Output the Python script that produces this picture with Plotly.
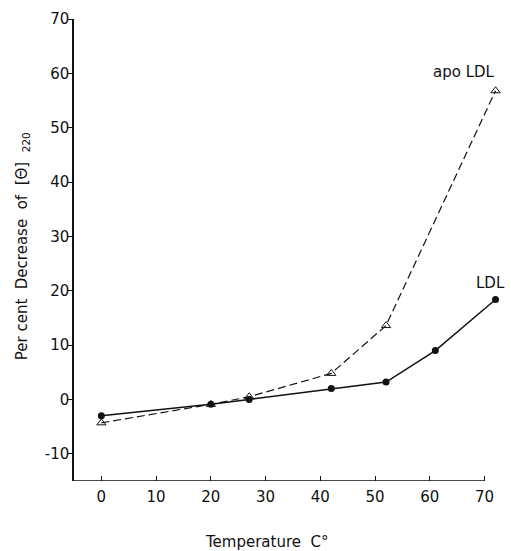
import plotly.graph_objects as go

# Temperature (°C) and percent decrease of [Θ]220 for each preparation
ldl_temp = [0, 20, 27, 42, 52, 61, 72]
ldl_decrease = [-3.0, -0.9, 0.0, 2.0, 3.2, 9.0, 18.4]

apo_temp = [0, 20, 27, 42, 52, 72]
apo_decrease = [-4.3, -0.9, 0.5, 4.8, 13.6, 56.8]

x_ticks = [0, 10, 20, 30, 40, 50, 60, 70]
y_ticks = [-10, 0, 10, 20, 30, 40, 50, 60, 70]
y_tick_labels = ["-10", "0", "10", "20", "30", "40", "50", "60", "70"]

FONT = "DejaVu Sans"
INK = "#111111"

fig = go.Figure()

fig.add_trace(go.Scatter(
    x=apo_temp, y=apo_decrease, mode="lines+markers", name="apo LDL",
    line=dict(color=INK, width=1.2, dash="8px,4px"),
    marker=dict(symbol="triangle-up-open", size=8, color=INK,
                line=dict(width=1, color=INK)),
    cliponaxis=False,
))
fig.add_trace(go.Scatter(
    x=ldl_temp, y=ldl_decrease, mode="lines+markers", name="LDL",
    line=dict(color=INK, width=1.5),
    marker=dict(symbol="circle", size=7, color=INK),
    cliponaxis=False,
))

# x axis line ends at 70 while the last points sit just beyond it
fig.add_shape(type="line", xref="x", yref="y", x0=-5, x1=70, y0=-15, y1=-15,
              line=dict(color=INK, width=1.5))

fig.add_annotation(x=66.2, y=60.3, xref="x", yref="y", text="apo LDL",
                   showarrow=False, font=dict(family=FONT, size=15, color=INK))
fig.add_annotation(x=71.0, y=21.4, xref="x", yref="y", text="LDL",
                   showarrow=False, font=dict(family=FONT, size=15, color=INK))

fig.add_annotation(x=30.2, y=-0.133, xref="x", yref="paper",
                   xanchor="center", yanchor="middle",
                   text="Temperature  C°", showarrow=False,
                   font=dict(family=FONT, size=15, color=INK))
fig.add_annotation(x=-0.1206, y=0.507, xref="paper", yref="paper",
                   xanchor="center", yanchor="middle",
                   text="Per cent  Decrease  of  [Θ]  <sub>220</sub>",
                   textangle=-90, showarrow=False,
                   font=dict(family=FONT, size=15, color=INK))

fig.update_layout(
    width=511, height=551,
    margin=dict(l=74, r=10, t=16, b=70),
    paper_bgcolor="white", plot_bgcolor="white",
    showlegend=False,
    font=dict(family=FONT, size=15, color=INK),
    xaxis=dict(range=[-5, 73], tickvals=x_ticks, ticks="inside", ticklen=5,
               tickwidth=1.2, tickcolor=INK, showline=False, showgrid=False,
               zeroline=False, ticklabelstandoff=5,
               tickfont=dict(family=FONT, size=15, color=INK)),
    yaxis=dict(range=[-15, 70], tickvals=y_ticks, ticktext=y_tick_labels,
               ticks="outside", ticklen=4, tickwidth=1.2, tickcolor=INK,
               showline=True, linecolor=INK, linewidth=1.5, showgrid=False,
               zeroline=False, ticklabelstandoff=-4,
               tickfont=dict(family=FONT, size=15, color=INK)),
)

fig.write_html("out.html")
